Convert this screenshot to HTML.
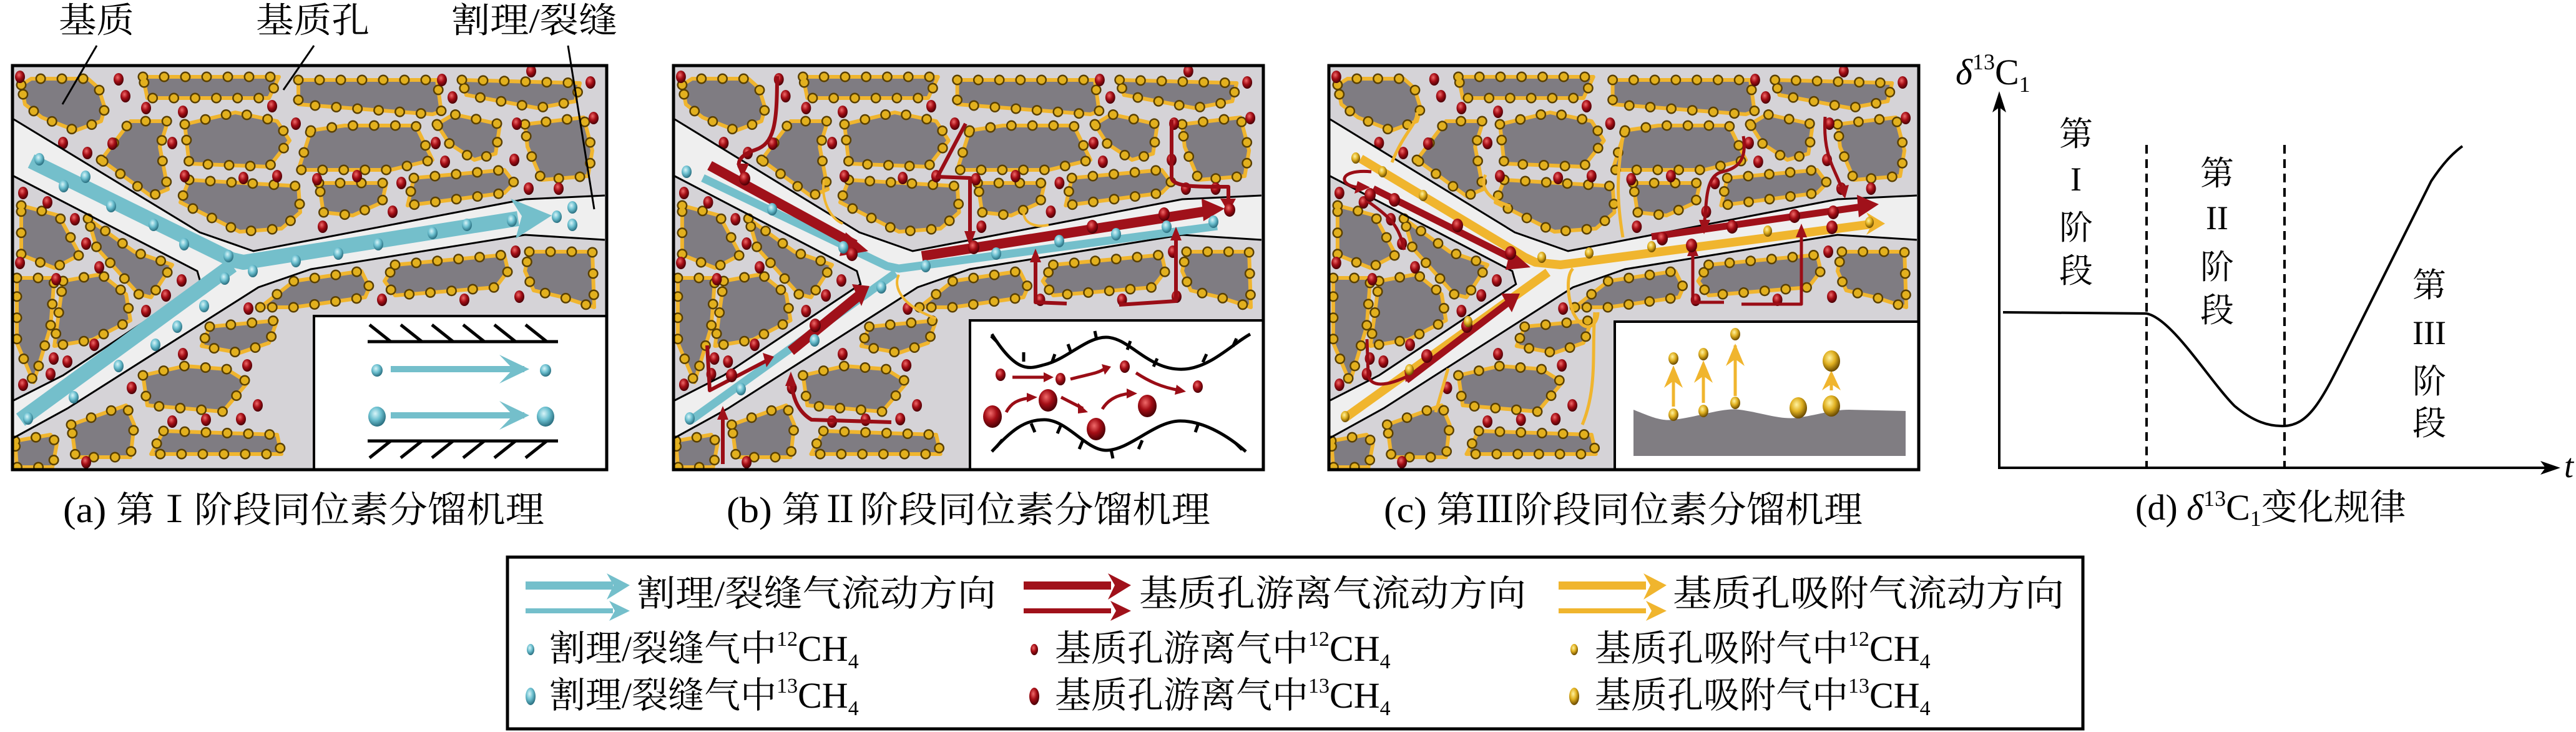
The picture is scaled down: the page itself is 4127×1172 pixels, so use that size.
<!DOCTYPE html>
<html><head><meta charset="utf-8"><style>
html,body{margin:0;padding:0;background:#fff;width:4127px;height:1172px;overflow:hidden}
svg{display:block}
text{font-family:"Liberation Serif","Noto Serif CJK SC",serif;fill:#000}
</style></head><body>
<svg width="4127" height="1172" viewBox="0 0 4127 1172" xmlns="http://www.w3.org/2000/svg">
<defs>
<radialGradient id="gr" cx="0.4" cy="0.35" r="0.65"><stop offset="0" stop-color="#f06a6a"/><stop offset="0.5" stop-color="#a50e16"/><stop offset="1" stop-color="#4a0006"/></radialGradient>
<radialGradient id="gc" cx="0.4" cy="0.35" r="0.65"><stop offset="0" stop-color="#d8f4f8"/><stop offset="0.5" stop-color="#6cc0d0"/><stop offset="1" stop-color="#2a6f80"/></radialGradient>
<radialGradient id="gy" cx="0.4" cy="0.35" r="0.65"><stop offset="0" stop-color="#fff2a0"/><stop offset="0.5" stop-color="#e0b020"/><stop offset="1" stop-color="#6a4a00"/></radialGradient>
<clipPath id="clipA"><rect x="20" y="105" width="952" height="647"/></clipPath>
<g id="grains">
<polygon points="34,136 50,126 141,126 158,141 168,173 162,194 121,209 67,188 40,167"/>
<polygon points="229,123 447,123 431,157 236,157"/>
<polygon points="478,128 700,128 707,178 693,183 478,167"/>
<polygon points="740,128 929,133 922,162 861,173 747,152"/>
<polygon points="162,256 209,194 269,194 256,235 269,303 242,314"/>
<polygon points="296,199 377,180 444,194 464,225 431,267 303,262"/>
<polygon points="498,209 552,201 666,201 693,256 626,272 478,272"/>
<polygon points="700,199 727,183 801,199 794,246 760,256 720,230"/>
<polygon points="841,199 935,188 949,241 942,282 868,288 845,235"/>
<polygon points="303,288 478,298 481,340 451,366 384,371 289,324"/>
<polygon points="511,293 619,293 612,324 565,345 518,340"/>
<polygon points="663,285 808,272 824,293 808,309 653,329"/>
<polygon points="34,329 94,345 128,408 87,429 34,408"/>
<polygon points="141,350 215,403 276,424 242,476 222,471 155,397"/>
<polygon points="27,445 87,445 81,523 54,612 27,549"/>
<polygon points="101,450 162,439 202,471 209,513 148,544 87,554"/>
<polygon points="417,492 471,450 579,434 592,460 585,476 471,492"/>
<polygon points="633,424 808,408 814,434 794,460 633,473 616,450"/>
<polygon points="848,403 949,403 952,492 902,476 855,465 841,434"/>
<polygon points="336,523 444,513 431,549 384,565 323,554"/>
<polygon points="229,601 296,586 363,591 397,612 357,659 236,649"/>
<polygon points="114,680 202,649 215,680 209,732 121,732"/>
<polygon points="262,690 444,696 451,727 242,727"/>
<polygon points="24,706 81,696 91,711 84,748 27,748"/>
</g>
<g id="reds">
<g fill="url(#gr)">
<ellipse cx="32" cy="123" rx="8" ry="10"/><ellipse cx="190" cy="127" rx="8" ry="10"/><ellipse cx="201" cy="154" rx="8" ry="10"/><ellipse cx="234" cy="173" rx="8" ry="10"/><ellipse cx="293" cy="179" rx="8" ry="10"/><ellipse cx="436" cy="170" rx="8" ry="10"/><ellipse cx="474" cy="198" rx="8" ry="10"/><ellipse cx="708" cy="128" rx="8" ry="10"/><ellipse cx="725" cy="156" rx="8" ry="10"/><ellipse cx="851" cy="114" rx="8" ry="10"/><ellipse cx="946" cy="132" rx="8" ry="10"/><ellipse cx="951" cy="189" rx="8" ry="10"/><ellipse cx="828" cy="198" rx="8" ry="10"/><ellipse cx="698" cy="229" rx="8" ry="10"/><ellipse cx="713" cy="259" rx="8" ry="10"/><ellipse cx="824" cy="256" rx="8" ry="10"/><ellipse cx="847" cy="302" rx="8" ry="10"/><ellipse cx="895" cy="302" rx="8" ry="10"/><ellipse cx="643" cy="293" rx="8" ry="10"/><ellipse cx="572" cy="282" rx="8" ry="10"/><ellipse cx="508" cy="287" rx="8" ry="10"/><ellipse cx="444" cy="282" rx="8" ry="10"/><ellipse cx="390" cy="285" rx="8" ry="10"/><ellipse cx="296" cy="282" rx="8" ry="10"/><ellipse cx="276" cy="229" rx="8" ry="10"/><ellipse cx="180" cy="230" rx="8" ry="10"/><ellipse cx="140" cy="245" rx="8" ry="10"/><ellipse cx="101" cy="229" rx="8" ry="10"/><ellipse cx="629" cy="339" rx="8" ry="10"/><ellipse cx="517" cy="363" rx="8" ry="10"/><ellipse cx="37" cy="309" rx="8" ry="10"/><ellipse cx="76" cy="324" rx="8" ry="10"/><ellipse cx="120" cy="351" rx="8" ry="10"/><ellipse cx="138" cy="390" rx="8" ry="10"/><ellipse cx="32" cy="421" rx="8" ry="10"/><ellipse cx="159" cy="428" rx="8" ry="10"/><ellipse cx="90" cy="447" rx="8" ry="10"/><ellipse cx="291" cy="449" rx="8" ry="10"/><ellipse cx="266" cy="473" rx="8" ry="10"/><ellipse cx="234" cy="498" rx="8" ry="10"/><ellipse cx="151" cy="552" rx="8" ry="10"/><ellipse cx="86" cy="574" rx="8" ry="10"/><ellipse cx="108" cy="579" rx="8" ry="10"/><ellipse cx="81" cy="599" rx="8" ry="10"/><ellipse cx="37" cy="616" rx="8" ry="10"/><ellipse cx="612" cy="480" rx="8" ry="10"/><ellipse cx="744" cy="480" rx="8" ry="10"/><ellipse cx="832" cy="475" rx="8" ry="10"/><ellipse cx="826" cy="403" rx="8" ry="10"/><ellipse cx="398" cy="494" rx="8" ry="10"/><ellipse cx="293" cy="567" rx="8" ry="10"/><ellipse cx="396" cy="585" rx="8" ry="10"/><ellipse cx="211" cy="621" rx="8" ry="10"/><ellipse cx="413" cy="649" rx="8" ry="10"/><ellipse cx="276" cy="675" rx="8" ry="10"/><ellipse cx="330" cy="672" rx="8" ry="10"/><ellipse cx="386" cy="671" rx="8" ry="10"/><ellipse cx="138" cy="740" rx="8" ry="10"/>
</g></g>
<g id="mat">
<rect x="20" y="105" width="952" height="647" fill="#d5d3d7"/>
<polygon points="22,191 320,372 406,402 841,319 969,313 969,384 841,376 498,431 414,460 108,654 22,701 22,641 101,601 322,455 316,434 22,282" fill="#efefef"/>
<use href="#grains" fill="#7f7c82" stroke="#f0b52e" stroke-width="6" stroke-linejoin="round"/>
<use href="#grains" fill="none" stroke="#5a4000" stroke-width="17" stroke-dasharray="0 34" stroke-linecap="round"/>
<use href="#grains" fill="none" stroke="#e2b01e" stroke-width="12" stroke-dasharray="0 34" stroke-linecap="round"/>
<use href="#reds"/>
<g fill="none" stroke="#000" stroke-width="3">
<polyline points="22,191 320,372 406,402 841,319 969,313"/>
<polyline points="22,282 316,434 322,455 101,601 22,641"/>
<polyline points="22,701 108,654 414,460 498,431 841,376 969,384"/>
</g>
</g>
</defs>

<!-- Panel a -->
<g clip-path="url(#clipA)"><use href="#mat"/>
<g fill="none" stroke="#74bfcb" stroke-width="24" stroke-linejoin="round">
<polyline points="50,258 372,416 390,420 830,350"/>
<polyline points="33,672 372,425"/>
</g>
<polygon points="818,318 884,345 826,382 836,346" fill="#74bfcb"/>
<g fill="url(#gc)">
<ellipse cx="63" cy="255" rx="8" ry="10"/><ellipse cx="137" cy="283" rx="8" ry="10"/><ellipse cx="102" cy="298" rx="8" ry="10"/><ellipse cx="178" cy="330" rx="8" ry="10"/><ellipse cx="246" cy="360" rx="8" ry="10"/><ellipse cx="295" cy="391" rx="8" ry="10"/><ellipse cx="366" cy="410" rx="8" ry="10"/><ellipse cx="405" cy="434" rx="8" ry="10"/><ellipse cx="474" cy="418" rx="8" ry="10"/><ellipse cx="542" cy="406" rx="8" ry="10"/><ellipse cx="606" cy="391" rx="8" ry="10"/><ellipse cx="693" cy="373" rx="8" ry="10"/><ellipse cx="748" cy="360" rx="8" ry="10"/><ellipse cx="820" cy="353" rx="8" ry="10"/><ellipse cx="892" cy="347" rx="8" ry="10"/><ellipse cx="917" cy="332" rx="8" ry="10"/><ellipse cx="917" cy="360" rx="8" ry="10"/><ellipse cx="360" cy="446" rx="8" ry="10"/><ellipse cx="327" cy="490" rx="8" ry="10"/><ellipse cx="284" cy="523" rx="8" ry="10"/><ellipse cx="249" cy="552" rx="8" ry="10"/><ellipse cx="190" cy="586" rx="8" ry="10"/><ellipse cx="118" cy="636" rx="8" ry="10"/><ellipse cx="45" cy="670" rx="8" ry="10"/>
</g>
<rect x="503" y="506" width="469" height="246" fill="#fff" stroke="#000" stroke-width="4"/>
<g stroke="#000" stroke-width="5" fill="none">
<line x1="589" y1="547" x2="894" y2="547"/><line x1="589" y1="706" x2="894" y2="706"/>
<path d="M592,520 l34,27 M642,520 l34,27 M692,520 l34,27 M742,520 l34,27 M792,520 l34,27 M842,520 l34,27"/>
<path d="M592,733 l34,-27 M642,733 l34,-27 M692,733 l34,-27 M742,733 l34,-27 M792,733 l34,-27 M842,733 l34,-27"/>
</g>
<g stroke="#74bfcb" stroke-width="10" fill="none"><line x1="626" y1="591" x2="840" y2="591"/><line x1="626" y1="665" x2="840" y2="665"/></g>
<polygon points="800,568 848,591 800,614 822,591" fill="#74bfcb"/><polygon points="800,642 848,665 800,688 822,665" fill="#74bfcb"/>
<g fill="url(#gc)"><ellipse cx="604" cy="593" rx="9" ry="10"/><ellipse cx="874" cy="593" rx="9" ry="10"/><ellipse cx="604" cy="667" rx="14" ry="16"/><ellipse cx="874" cy="667" rx="14" ry="16"/></g>
</g>
<rect x="20" y="105" width="952" height="647" fill="none" stroke="#000" stroke-width="5"/>

<!-- Panel b -->
<g transform="translate(1079,0) scale(0.9926,1) translate(-20,0)"><g clip-path="url(#clipA)"><use href="#mat"/></g></g>
<g fill="none" stroke-linejoin="round">
<polyline points="1126,285 1421,426 1440,430 1950,362" stroke="#74bfcb" stroke-width="13"/>
<polyline points="1105,674 1435,437" stroke="#74bfcb" stroke-width="13"/>
<line x1="1137" y1="265" x2="1370" y2="392" stroke="#a0111a" stroke-width="16"/>
<line x1="1477" y1="410" x2="1940" y2="337" stroke="#a0111a" stroke-width="16"/>
<line x1="1267" y1="562" x2="1380" y2="470" stroke="#a0111a" stroke-width="16"/>
<g stroke="#9a0d16" stroke-width="6">
<path d="M1245,122 C1245,200 1240,230 1210,240 C1180,250 1180,265 1189,272"/>
<path d="M1547,198 L1502,283 L1554,285 L1554,388"/>
<path d="M1877,192 L1877,285 C1880,300 1920,299 1968,299 L1968,330"/>
<path d="M1709,486 L1659,484 L1659,410"/>
<path d="M1793,488 L1884,482 L1884,375"/>
<path d="M1428,676 L1300,672 C1280,660 1270,640 1267,607"/>
<path d="M1158,743 L1158,660"/>
<path d="M1133,553 L1137,625 L1231,576"/>
</g>
<g stroke="#f0b52e" stroke-width="4">
<path d="M1320,288 C1315,320 1330,350 1350,358"/>
<path d="M1640,340 C1640,358 1660,365 1680,360"/>
<path d="M1440,440 C1430,460 1445,490 1500,510"/>
</g>
</g>
<g fill="#a0111a">
<polygon points="1355,372 1391,402 1345,410"/>
<polygon points="1925,318 1962,334 1928,354"/>
<polygon points="1365,455 1393,458 1380,490"/>
<polygon points="1180,262 1189,285 1200,262"/>
<polygon points="1545,370 1554,395 1563,370"/>
<polygon points="1955,318 1968,340 1980,318"/>
<polygon points="1650,420 1659,398 1668,420"/>
<polygon points="1875,385 1884,363 1893,385"/>
<polygon points="1258,618 1267,595 1276,618"/>
<polygon points="1149,672 1158,650 1167,672"/>
<polygon points="1222,565 1240,571 1228,588"/>
</g>
<g fill="url(#gr)"><ellipse cx="1365" cy="407" rx="9" ry="11"/><ellipse cx="1193" cy="286" rx="9" ry="11"/><ellipse cx="1560" cy="396" rx="9" ry="11"/><ellipse cx="1750" cy="363" rx="9" ry="11"/><ellipse cx="1865" cy="343" rx="9" ry="11"/><ellipse cx="1970" cy="336" rx="9" ry="11"/><ellipse cx="1306" cy="521" rx="9" ry="11"/><ellipse cx="1172" cy="601" rx="9" ry="11"/></g>
<g fill="url(#gc)"><ellipse cx="1100" cy="275" rx="8" ry="10"/><ellipse cx="1237" cy="335" rx="8" ry="10"/><ellipse cx="1351" cy="396" rx="8" ry="10"/><ellipse cx="1483" cy="426" rx="8" ry="10"/><ellipse cx="1596" cy="406" rx="8" ry="10"/><ellipse cx="1697" cy="386" rx="8" ry="10"/><ellipse cx="1788" cy="375" rx="8" ry="10"/><ellipse cx="1869" cy="363" rx="8" ry="10"/><ellipse cx="1944" cy="355" rx="8" ry="10"/><ellipse cx="1412" cy="460" rx="8" ry="10"/><ellipse cx="1305" cy="545" rx="8" ry="10"/><ellipse cx="1187" cy="623" rx="8" ry="10"/><ellipse cx="1105" cy="670" rx="8" ry="10"/></g>
<rect x="1554" y="513" width="470" height="239" fill="#fff" stroke="#000" stroke-width="4"/>
<g fill="none" stroke="#000" stroke-width="5">
<path d="M1589,535 C1630,600 1650,590 1673,584 C1710,575 1740,540 1772,540 C1810,540 1840,595 1898,591 C1940,588 1975,550 2003,535"/>
<path d="M1589,723 C1620,690 1640,672 1673,672 C1710,672 1740,721 1772,721 C1810,721 1850,674 1891,674 C1930,674 1970,700 1996,723"/>
<path d="M1598,548 l-10,-10 M1640,579 l0,-15 M1685,581 l5,-14 M1716,565 l-5,-14 M1757,544 l-3,-14 M1806,560 l5,-14 M1848,587 l6,-13 M1927,580 l6,-13 M1975,555 l6,-13"/>
<path d="M1606,704 l-10,12 M1652,678 l6,14 M1700,680 l-6,14 M1735,705 l-6,14 M1780,720 l3,14 M1830,705 l-6,14 M1920,678 l-5,14 M1980,710 l10,10"/>
</g>
<g fill="none" stroke="#9a0d16" stroke-width="5">
<path d="M1622,604 L1675,604"/><path d="M1715,607 C1740,600 1760,598 1770,590"/><path d="M1820,597 C1840,610 1860,620 1890,625"/>
<path d="M1612,660 C1620,645 1630,640 1650,637"/><path d="M1700,636 L1735,654"/><path d="M1766,655 C1775,640 1790,632 1810,630"/>
</g>
<g fill="#9a0d16"><polygon points="1672,596 1688,604 1672,612"/><polygon points="1765,583 1780,587 1770,600"/><polygon points="1885,616 1900,627 1882,632"/><polygon points="1645,629 1662,636 1645,644"/><polygon points="1727,645 1743,660 1727,662"/><polygon points="1805,622 1822,630 1805,638"/></g>
<g fill="url(#gr)"><ellipse cx="1603" cy="600" rx="8" ry="10"/><ellipse cx="1699" cy="607" rx="8" ry="10"/><ellipse cx="1802" cy="587" rx="8" ry="10"/><ellipse cx="1919" cy="619" rx="8" ry="10"/><ellipse cx="1590" cy="667" rx="15" ry="18"/><ellipse cx="1679" cy="641" rx="15" ry="18"/><ellipse cx="1756" cy="687" rx="15" ry="18"/><ellipse cx="1838" cy="650" rx="15" ry="18"/></g>
<rect x="1079" y="105" width="945" height="647" fill="none" stroke="#000" stroke-width="5"/>

<!-- Panel c -->
<g transform="translate(2129,0) scale(0.9926,1) translate(-20,0)"><g clip-path="url(#clipA)"><use href="#mat"/></g></g>
<g fill="none" stroke-linejoin="round">
<polyline points="2180,254 2443,412 2460,420 2500,424 3005,358" stroke="#f0b52e" stroke-width="14"/>
<polyline points="2155,669 2480,436" stroke="#f0b52e" stroke-width="14"/>
<line x1="2200" y1="302" x2="2435" y2="420" stroke="#a0111a" stroke-width="11"/>
<line x1="2646" y1="379" x2="2990" y2="330" stroke="#a0111a" stroke-width="11"/>
<line x1="2253" y1="609" x2="2425" y2="478" stroke="#a0111a" stroke-width="11"/>
<g stroke="#9a0d16" stroke-width="5">
<path d="M2197,275 C2140,270 2145,300 2180,300"/>
<path d="M2188,320 C2230,350 2240,360 2250,400"/>
<path d="M2190,543 L2192,600 C2195,620 2220,620 2260,600"/>
<path d="M2793,218 C2800,260 2780,270 2760,275 C2730,280 2735,330 2730,360"/>
<path d="M2924,187 C2920,250 2940,270 2952,305"/>
<path d="M2762,484 L2712,484 L2712,400"/>
<path d="M2790,487 L2886,487 L2886,370"/>
</g>
<g stroke="#f0b52e" stroke-width="5">
<path d="M2270,180 C2270,200 2250,210 2230,260"/>
<path d="M2600,220 C2590,280 2590,320 2600,380"/>
<path d="M2380,280 C2370,300 2385,320 2420,330"/>
<path d="M2560,500 C2560,520 2540,540 2520,500 C2510,470 2510,440 2520,430"/>
<path d="M2555,500 C2550,560 2560,620 2535,680"/>
<path d="M2300,660 L2320,590"/>
</g>
</g>
<g fill="#a0111a">
<polygon points="2420,400 2452,428 2412,432"/>
<polygon points="2975,312 3010,327 2978,348"/>
<polygon points="2405,470 2435,470 2422,500"/>
<polygon points="2175,290 2195,300 2170,310"/>
<polygon points="2722,352 2730,375 2740,352"/>
<polygon points="2942,300 2956,318 2962,296"/>
<polygon points="2703,410 2712,388 2721,410"/>
<polygon points="2877,380 2886,358 2895,380"/>
<polygon points="2250,592 2266,598 2252,612"/>
</g>
<polygon points="2990,340 3020,358 2990,376 3000,358" fill="#f0b52e"/>
<g fill="url(#gr)"><ellipse cx="2234" cy="320" rx="9" ry="11"/><ellipse cx="2335" cy="361" rx="9" ry="11"/><ellipse cx="2420" cy="405" rx="9" ry="11"/><ellipse cx="2663" cy="382" rx="9" ry="11"/><ellipse cx="2775" cy="363" rx="9" ry="11"/><ellipse cx="2875" cy="346" rx="9" ry="11"/><ellipse cx="2937" cy="340" rx="9" ry="11"/><ellipse cx="2935" cy="364" rx="9" ry="11"/><ellipse cx="2710" cy="393" rx="9" ry="11"/><ellipse cx="2286" cy="570" rx="9" ry="11"/><ellipse cx="2350" cy="522" rx="9" ry="11"/><ellipse cx="2195" cy="312" rx="9" ry="11"/></g>
<g fill="url(#gy)"><ellipse cx="2172" cy="253" rx="7" ry="9"/><ellipse cx="2215" cy="275" rx="7" ry="9"/><ellipse cx="2280" cy="313" rx="7" ry="9"/><ellipse cx="2470" cy="412" rx="7" ry="9"/><ellipse cx="2546" cy="405" rx="7" ry="9"/><ellipse cx="2646" cy="395" rx="7" ry="9"/><ellipse cx="2832" cy="370" rx="7" ry="9"/><ellipse cx="2995" cy="356" rx="7" ry="9"/><ellipse cx="2352" cy="515" rx="7" ry="9"/><ellipse cx="2258" cy="592" rx="7" ry="9"/><ellipse cx="2155" cy="667" rx="7" ry="9"/></g>
<rect x="2587" y="515" width="487" height="237" fill="#fff" stroke="#000" stroke-width="4"/>
<path d="M2617,656 C2640,665 2660,675 2681,672 C2720,668 2760,652 2787,656 C2820,660 2850,672 2878,669 C2910,665 2935,656 2962,656 L3053,658 L3053,730 L2617,730 Z" fill="#807d82"/>
<g stroke="#f0b52e" stroke-width="5" fill="none"><line x1="2681" y1="651" x2="2681" y2="592"/><line x1="2729" y1="645" x2="2729" y2="583"/><line x1="2780" y1="634" x2="2780" y2="553"/><line x1="2934" y1="625" x2="2934" y2="598"/></g>
<g fill="#f0b52e"><polygon points="2666,621 2681,585 2696,621 2681,610"/><polygon points="2714,613 2729,577 2744,613 2729,602"/><polygon points="2765,586 2780,550 2795,586 2780,575"/><polygon points="2919,625 2934,593 2949,625 2934,615"/></g>
<g fill="url(#gy)"><ellipse cx="2681" cy="574" rx="8" ry="10"/><ellipse cx="2729" cy="567" rx="8" ry="10"/><ellipse cx="2780" cy="535" rx="8" ry="10"/><ellipse cx="2934" cy="578" rx="14" ry="17"/><ellipse cx="2681" cy="664" rx="8" ry="10"/><ellipse cx="2729" cy="658" rx="8" ry="10"/><ellipse cx="2780" cy="645" rx="8" ry="10"/><ellipse cx="2881" cy="653" rx="14" ry="17"/><ellipse cx="2934" cy="650" rx="14" ry="17"/></g>
<rect x="2129" y="105" width="945" height="647" fill="none" stroke="#000" stroke-width="5"/>

<!-- Top labels -->
<text x="94" y="52" font-size="56" textLength="121" lengthAdjust="spacingAndGlyphs">基质</text>
<text x="410" y="52" font-size="56" textLength="182" lengthAdjust="spacingAndGlyphs">基质孔</text>
<text x="723" y="52" font-size="56" textLength="266" lengthAdjust="spacingAndGlyphs">割理/裂缝</text>
<g stroke="#000" stroke-width="3"><line x1="155" y1="73" x2="100" y2="167"/><line x1="503" y1="73" x2="454" y2="144"/><line x1="910" y1="73" x2="952" y2="335"/></g>

<!-- Captions -->
<text x="101" y="836" font-size="58" textLength="771" lengthAdjust="spacingAndGlyphs">(a) 第Ⅰ阶段同位素分馏机理</text>
<text x="1164" y="836" font-size="58" textLength="775" lengthAdjust="spacingAndGlyphs">(b) 第Ⅱ阶段同位素分馏机理</text>
<text x="2217" y="836" font-size="58" textLength="767" lengthAdjust="spacingAndGlyphs">(c) 第Ⅲ阶段同位素分馏机理</text>
<text x="3421" y="832" font-size="58">(d) <tspan font-style="italic">δ</tspan><tspan font-size="36" dy="-22">13</tspan><tspan dy="22">C</tspan><tspan font-size="36" dy="10">1</tspan><tspan dy="-10">变化规律</tspan></text>

<!-- Panel d -->
<g stroke="#000" stroke-width="4" fill="none">
<line x1="3203" y1="160" x2="3203" y2="749"/><line x1="3201" y1="749" x2="4090" y2="749"/>
<line x1="3439" y1="232" x2="3439" y2="749" stroke-dasharray="14 9"/>
<line x1="3660" y1="232" x2="3660" y2="749" stroke-dasharray="14 9"/>
<path d="M3209,500 L3439,502 C3480,510 3540,610 3580,650 C3610,675 3635,683 3660,682 C3700,680 3720,640 3760,560 L3895,290 C3915,260 3930,245 3945,234"/>
</g>
<polygon points="3203,146 3192,180 3203,172 3214,180" fill="#000"/>
<polygon points="4102,749 4070,738 4078,749 4070,760" fill="#000"/>
<text x="4108" y="764" font-size="54" font-style="italic">t</text>
<text x="3133" y="135" font-size="58"><tspan font-style="italic">δ</tspan><tspan font-size="36" dy="-24">13</tspan><tspan dy="24">C</tspan><tspan font-size="36" dy="12">1</tspan></text>
<g font-size="54" text-anchor="middle">
<text x="3326" y="233">第</text><text x="3326" y="305">I</text><text x="3326" y="383">阶</text><text x="3326" y="452">段</text>
<text x="3552" y="296">第</text><text x="3552" y="367">II</text><text x="3552" y="446">阶</text><text x="3552" y="515">段</text>
<text x="3892" y="475">第</text><text x="3892" y="551">III</text><text x="3892" y="629">阶</text><text x="3892" y="696">段</text>
</g>

<!-- Legend -->
<rect x="813" y="892" width="2524" height="275" fill="#fff" stroke="#000" stroke-width="5"/>
<g>
<rect x="842" y="931" width="140" height="13" fill="#74bfcb"/><polygon points="972,918 1009,937 972,960 983,937" fill="#74bfcb"/>
<rect x="842" y="974" width="140" height="8" fill="#74bfcb"/><polygon points="976,962 1009,978 976,994 985,978" fill="#74bfcb"/>
<rect x="1640" y="931" width="140" height="13" fill="#a0111a"/><polygon points="1775,918 1812,937 1775,960 1786,937" fill="#a0111a"/>
<rect x="1640" y="974" width="140" height="8" fill="#a0111a"/><polygon points="1779,962 1812,978 1779,994 1788,978" fill="#a0111a"/>
<rect x="2497" y="931" width="140" height="13" fill="#f0b52e"/><polygon points="2633,918 2670,937 2633,960 2644,937" fill="#f0b52e"/>
<rect x="2497" y="974" width="140" height="8" fill="#f0b52e"/><polygon points="2637,962 2670,978 2637,994 2646,978" fill="#f0b52e"/>
</g>
<g font-size="58">
<text x="1020" y="970" textLength="576" lengthAdjust="spacingAndGlyphs">割理/裂缝气流动方向</text>
<text x="1825" y="970" textLength="620" lengthAdjust="spacingAndGlyphs">基质孔游离气流动方向</text>
<text x="2680" y="970" textLength="627" lengthAdjust="spacingAndGlyphs">基质孔吸附气流动方向</text>
</g>
<g fill="url(#gc)"><ellipse cx="850" cy="1040" rx="6" ry="9"/><ellipse cx="850" cy="1115" rx="8" ry="14"/></g>
<g fill="url(#gr)"><ellipse cx="1657" cy="1040" rx="6" ry="9"/><ellipse cx="1657" cy="1115" rx="8" ry="14"/></g>
<g fill="url(#gy)"><ellipse cx="2522" cy="1040" rx="6" ry="9"/><ellipse cx="2522" cy="1115" rx="8" ry="14"/></g>
<g font-size="58">
<text x="880" y="1058">割理/裂缝气中<tspan font-size="34" dy="-24">12</tspan><tspan dy="24">CH</tspan><tspan font-size="34" dy="12">4</tspan></text>
<text x="880" y="1133">割理/裂缝气中<tspan font-size="34" dy="-24">13</tspan><tspan dy="24">CH</tspan><tspan font-size="34" dy="12">4</tspan></text>
<text x="1690" y="1058">基质孔游离气中<tspan font-size="34" dy="-24">12</tspan><tspan dy="24">CH</tspan><tspan font-size="34" dy="12">4</tspan></text>
<text x="1690" y="1133">基质孔游离气中<tspan font-size="34" dy="-24">13</tspan><tspan dy="24">CH</tspan><tspan font-size="34" dy="12">4</tspan></text>
<text x="2555" y="1058">基质孔吸附气中<tspan font-size="34" dy="-24">12</tspan><tspan dy="24">CH</tspan><tspan font-size="34" dy="12">4</tspan></text>
<text x="2555" y="1133">基质孔吸附气中<tspan font-size="34" dy="-24">13</tspan><tspan dy="24">CH</tspan><tspan font-size="34" dy="12">4</tspan></text>
</g>
</svg>
</body></html>
